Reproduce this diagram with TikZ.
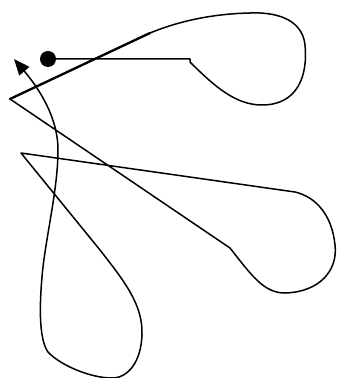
\documentclass[tikz,border=0pt]{standalone}
\usepackage{tikz}
\usetikzlibrary{arrows.meta}

\begin{document}
\begin{tikzpicture}[
    x=0.5pt, y=-0.5pt,
    % ── line styles ──
    scribble/.style = {draw=black, line width=0.75pt, line join=round},
    heavy/.style    = {draw=black, line width=1.15pt, line cap=round},
    arr/.style      = {-{Triangle[length=8pt, width=6.5pt]}},
    dot/.style      = {fill=black},
]
\useasboundingbox (0,0) rectangle (336,378);

% =====================================================================
% key points of the path
% =====================================================================
\coordinate (start)  at (48,59);
\coordinate (bend)   at (190,59);
\coordinate (leftA)  at (10,99);
\coordinate (kneeA)  at (230,248);
\coordinate (backB)  at (295,192);
\coordinate (leftB)  at (21,153);
\coordinate (kneeB)  at (100,250);
\coordinate (tip)    at (14,59);

% =====================================================================
% the one long stroke
% =====================================================================
\clip (0,0) rectangle (336,378);
\draw[scribble, arr] (start) -- (bend) -- (190,62)
  .. controls (215,87) and (236,105) .. (262,105)
  .. controls (298,105) and (308,75) .. (305,45)
  .. controls (302,17) and (272,12) .. (250,13)
  .. controls (205,14) and (172,24) .. (150,33)
  -- (leftA) -- (kneeA)
  .. controls (252,276) and (264,293) .. (285,293)
  .. controls (320,292) and (338,270) .. (335,245)
  .. controls (332,215) and (316,197) .. (backB)
  -- (leftB) -- (kneeB)
  .. controls (125,282) and (143,305) .. (142,335)
  .. controls (141,362) and (128,378) .. (112,378)
  .. controls (90,378) and (60,365) .. (48,352)
  .. controls (38,338) and (40,300) .. (42,277)
  .. controls (45,240) and (58,190) .. (58,150)
  .. controls (58,115) and (36,85) .. (tip);

% heavier stretch of the upper stroke
\draw[heavy] (150,33) -- (leftA);

% starting dot
\fill[dot] (start) circle (8);

\end{tikzpicture}
\end{document}
